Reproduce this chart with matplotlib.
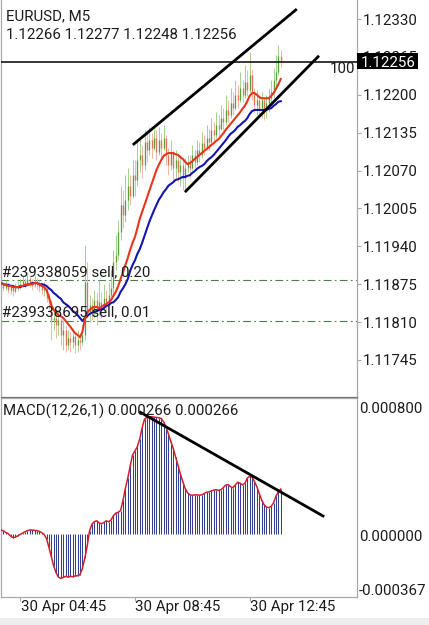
import matplotlib
matplotlib.use("Agg")
import matplotlib.pyplot as plt
import numpy as np
from matplotlib.patches import Rectangle
from matplotlib.transforms import blended_transform_factory

# ---------------- data ----------------
symbol_title = "EURUSD, M5"
ohlc_title = "1.12266 1.12277 1.12248 1.12256"
macd_title = "MACD(12,26,1) 0.000266 0.000266"

open_ = [1.11870, 1.11874, 1.11868, 1.11875, 1.11865, 1.11870, 1.11863, 1.11868, 1.11872, 1.11875,
         1.11880, 1.11875, 1.11884, 1.11877, 1.11874, 1.11880, 1.11875, 1.11870, 1.11865, 1.11867,
         1.11851, 1.11844, 1.11814, 1.11817, 1.11805, 1.11814, 1.11788, 1.11796, 1.11771, 1.11783,
         1.11776, 1.11786, 1.11771, 1.11779, 1.11776, 1.11788, 1.11879, 1.11827, 1.11839, 1.11827,
         1.11848, 1.11831, 1.11844, 1.11838, 1.11851, 1.11844, 1.11857, 1.11868, 1.11913, 1.11925,
         1.11965, 1.12011, 1.11994, 1.12020, 1.12044, 1.12027, 1.12062, 1.12054, 1.12088, 1.12097,
         1.12080, 1.12119, 1.12105, 1.12122, 1.12109, 1.12126, 1.12102, 1.12122, 1.12109, 1.12126,
         1.12097, 1.12080, 1.12102, 1.12074, 1.12088, 1.12068, 1.12080, 1.12057, 1.12074, 1.12085,
         1.12074, 1.12097, 1.12085, 1.12105, 1.12097, 1.12117, 1.12109, 1.12126, 1.12119, 1.12140,
         1.12131, 1.12148, 1.12141, 1.12160, 1.12153, 1.12174, 1.12165, 1.12186, 1.12177, 1.12200,
         1.12191, 1.12212, 1.12200, 1.12222, 1.12208, 1.12234, 1.12205, 1.12182, 1.12191, 1.12177,
         1.12191, 1.12174, 1.12186, 1.12194, 1.12205, 1.12225, 1.12239, 1.12266]
high = [1.11884, 1.11879, 1.11882, 1.11877, 1.11875, 1.11874, 1.11877, 1.11880, 1.11884, 1.11889,
        1.11886, 1.11896, 1.11887, 1.11884, 1.11891, 1.11886, 1.11882, 1.11877, 1.11879, 1.11868,
        1.11860, 1.11848, 1.11831, 1.11824, 1.11827, 1.11817, 1.11814, 1.11805, 1.11796, 1.11793,
        1.11800, 1.11793, 1.11796, 1.11788, 1.11805, 1.11942, 1.11913, 1.11857, 1.11851, 1.11865,
        1.11862, 1.11882, 1.11862, 1.11875, 1.11865, 1.11879, 1.11899, 1.11934, 1.11959, 1.11985,
        1.12044, 1.12037, 1.12062, 1.12074, 1.12062, 1.12088, 1.12088, 1.12122, 1.12126, 1.12114,
        1.12140, 1.12140, 1.12145, 1.12134, 1.12141, 1.12140, 1.12145, 1.12134, 1.12148, 1.12131,
        1.12109, 1.12122, 1.12105, 1.12105, 1.12097, 1.12097, 1.12088, 1.12092, 1.12097, 1.12097,
        1.12114, 1.12105, 1.12122, 1.12119, 1.12136, 1.12131, 1.12148, 1.12141, 1.12160, 1.12153,
        1.12170, 1.12165, 1.12182, 1.12177, 1.12200, 1.12191, 1.12212, 1.12205, 1.12225, 1.12217,
        1.12239, 1.12225, 1.12251, 1.12242, 1.12273, 1.12242, 1.12212, 1.12208, 1.12200, 1.12205,
        1.12194, 1.12200, 1.12212, 1.12225, 1.12246, 1.12268, 1.12285, 1.12277]
low = [1.11865, 1.11863, 1.11865, 1.11860, 1.11858, 1.11855, 1.11860, 1.11863, 1.11867, 1.11870,
       1.11868, 1.11872, 1.11870, 1.11865, 1.11870, 1.11867, 1.11862, 1.11858, 1.11855, 1.11844,
       1.11831, 1.11779, 1.11796, 1.11783, 1.11788, 1.11771, 1.11762, 1.11759, 1.11762, 1.11759,
       1.11766, 1.11757, 1.11759, 1.11762, 1.11771, 1.11779, 1.11817, 1.11810, 1.11814, 1.11817,
       1.11805, 1.11822, 1.11817, 1.11827, 1.11831, 1.11839, 1.11848, 1.11857, 1.11899, 1.11916,
       1.11951, 1.11971, 1.11982, 1.12002, 1.12011, 1.12023, 1.12027, 1.12044, 1.12068, 1.12057,
       1.12071, 1.12085, 1.12097, 1.12092, 1.12105, 1.12088, 1.12097, 1.12088, 1.12105, 1.12080,
       1.12062, 1.12071, 1.12054, 1.12057, 1.12050, 1.12044, 1.12037, 1.12033, 1.12068, 1.12057,
       1.12071, 1.12074, 1.12080, 1.12085, 1.12092, 1.12097, 1.12105, 1.12105, 1.12114, 1.12119,
       1.12126, 1.12129, 1.12140, 1.12140, 1.12148, 1.12153, 1.12160, 1.12165, 1.12174, 1.12177,
       1.12188, 1.12188, 1.12194, 1.12198, 1.12205, 1.12191, 1.12170, 1.12165, 1.12164, 1.12160,
       1.12157, 1.12160, 1.12170, 1.12182, 1.12194, 1.12212, 1.12234, 1.12248]
close = [1.11874, 1.11868, 1.11875, 1.11865, 1.11870, 1.11863, 1.11868, 1.11872, 1.11875, 1.11880,
         1.11875, 1.11884, 1.11877, 1.11874, 1.11880, 1.11875, 1.11870, 1.11865, 1.11867, 1.11851,
         1.11844, 1.11814, 1.11817, 1.11805, 1.11814, 1.11788, 1.11796, 1.11771, 1.11783, 1.11776,
         1.11786, 1.11771, 1.11779, 1.11776, 1.11788, 1.11879, 1.11827, 1.11839, 1.11827, 1.11848,
         1.11831, 1.11844, 1.11838, 1.11851, 1.11844, 1.11857, 1.11868, 1.11913, 1.11925, 1.11965,
         1.12011, 1.11994, 1.12020, 1.12044, 1.12027, 1.12062, 1.12054, 1.12088, 1.12097, 1.12080,
         1.12119, 1.12105, 1.12122, 1.12109, 1.12126, 1.12102, 1.12122, 1.12109, 1.12126, 1.12097,
         1.12080, 1.12102, 1.12074, 1.12088, 1.12068, 1.12080, 1.12057, 1.12074, 1.12085, 1.12074,
         1.12097, 1.12085, 1.12105, 1.12097, 1.12117, 1.12109, 1.12126, 1.12119, 1.12140, 1.12131,
         1.12148, 1.12141, 1.12160, 1.12153, 1.12174, 1.12165, 1.12186, 1.12177, 1.12200, 1.12191,
         1.12212, 1.12200, 1.12222, 1.12208, 1.12234, 1.12205, 1.12182, 1.12191, 1.12177, 1.12191,
         1.12174, 1.12186, 1.12194, 1.12205, 1.12225, 1.12239, 1.12266, 1.12256]
ema_fast = [1.11877, 1.11875, 1.11874, 1.11872, 1.11872, 1.11870, 1.11870, 1.11870, 1.11872, 1.11872,
            1.11874, 1.11874, 1.11875, 1.11875, 1.11877, 1.11877, 1.11875, 1.11872, 1.11870, 1.11865,
            1.11853, 1.11839, 1.11831, 1.11826, 1.11822, 1.11820, 1.11817, 1.11812, 1.11807, 1.11802,
            1.11796, 1.11791, 1.11788, 1.11784, 1.11793, 1.11814, 1.11826, 1.11831, 1.11834, 1.11836,
            1.11836, 1.11834, 1.11836, 1.11839, 1.11841, 1.11844, 1.11848, 1.11855, 1.11862, 1.11872,
            1.11884, 1.11896, 1.11908, 1.11920, 1.11934, 1.11946, 1.11956, 1.11971, 1.11987, 1.11999,
            1.12011, 1.12023, 1.12035, 1.12047, 1.12059, 1.12071, 1.12080, 1.12088, 1.12095, 1.12098,
            1.12100, 1.12100, 1.12100, 1.12098, 1.12097, 1.12093, 1.12090, 1.12085, 1.12081, 1.12083,
            1.12086, 1.12090, 1.12093, 1.12097, 1.12100, 1.12104, 1.12107, 1.12110, 1.12114, 1.12117,
            1.12121, 1.12124, 1.12129, 1.12134, 1.12140, 1.12145, 1.12150, 1.12155, 1.12160, 1.12165,
            1.12170, 1.12176, 1.12181, 1.12189, 1.12198, 1.12203, 1.12203, 1.12200, 1.12196, 1.12194,
            1.12194, 1.12194, 1.12194, 1.12198, 1.12203, 1.12210, 1.12218, 1.12227]
ema_slow = [1.11877, 1.11875, 1.11874, 1.11874, 1.11872, 1.11872, 1.11870, 1.11870, 1.11870, 1.11872,
            1.11872, 1.11874, 1.11875, 1.11877, 1.11877, 1.11877, 1.11875, 1.11875, 1.11874, 1.11872,
            1.11868, 1.11865, 1.11860, 1.11857, 1.11853, 1.11850, 1.11844, 1.11841, 1.11838, 1.11834,
            1.11829, 1.11826, 1.11822, 1.11817, 1.11812, 1.11817, 1.11820, 1.11824, 1.11826, 1.11827,
            1.11829, 1.11831, 1.11832, 1.11834, 1.11838, 1.11839, 1.11843, 1.11844, 1.11848, 1.11853,
            1.11862, 1.11868, 1.11875, 1.11884, 1.11898, 1.11908, 1.11916, 1.11927, 1.11935, 1.11946,
            1.11958, 1.11970, 1.11982, 1.11992, 1.12002, 1.12011, 1.12020, 1.12026, 1.12033, 1.12038,
            1.12044, 1.12047, 1.12050, 1.12054, 1.12055, 1.12057, 1.12059, 1.12059, 1.12061, 1.12062,
            1.12066, 1.12069, 1.12073, 1.12076, 1.12078, 1.12081, 1.12086, 1.12090, 1.12093, 1.12097,
            1.12102, 1.12107, 1.12112, 1.12117, 1.12122, 1.12128, 1.12133, 1.12136, 1.12140, 1.12145,
            1.12148, 1.12152, 1.12155, 1.12160, 1.12167, 1.12172, 1.12174, 1.12174, 1.12174, 1.12174,
            1.12174, 1.12174, 1.12176, 1.12177, 1.12181, 1.12184, 1.12188, 1.12189]
macd = [0.000026, 0.000020, 0.000012, 0.000004, -0.000010, -0.000019, -0.000016, -0.000008, 0.000000, 0.000008,
        0.000016, 0.000022, 0.000026, 0.000026, 0.000024, 0.000022, 0.000018, 0.000010, 0.000000, -0.000025,
        -0.000075, -0.000130, -0.000185, -0.000225, -0.000250, -0.000258, -0.000252, -0.000246, -0.000250, -0.000246,
        -0.000248, -0.000244, -0.000242, -0.000236, -0.000200, -0.000140, -0.000070, 0.000020, 0.000060, 0.000075,
        0.000080, 0.000068, 0.000062, 0.000070, 0.000080, 0.000074, 0.000085, 0.000110, 0.000125, 0.000130,
        0.000140, 0.000200, 0.000270, 0.000330, 0.000400, 0.000465, 0.000490, 0.000515, 0.000560, 0.000625,
        0.000675, 0.000688, 0.000690, 0.000690, 0.000688, 0.000686, 0.000684, 0.000680, 0.000660, 0.000630,
        0.000590, 0.000545, 0.000505, 0.000455, 0.000405, 0.000355, 0.000310, 0.000270, 0.000245, 0.000232,
        0.000230, 0.000232, 0.000232, 0.000230, 0.000232, 0.000240, 0.000248, 0.000250, 0.000255, 0.000260,
        0.000262, 0.000258, 0.000262, 0.000275, 0.000290, 0.000292, 0.000280, 0.000274, 0.000290, 0.000306,
        0.000300, 0.000290, 0.000300, 0.000330, 0.000340, 0.000336, 0.000310, 0.000280, 0.000240, 0.000202,
        0.000175, 0.000160, 0.000157, 0.000165, 0.000185, 0.000225, 0.000250, 0.000266]

price_ticks = [1.12330, 1.12265, 1.12200, 1.12135, 1.12070, 1.12005, 1.11940, 1.11875, 1.11810, 1.11745]
time_tick_bars = [8, 56, 104]
time_tick_labels = ["30 Apr 04:45", "30 Apr 08:45", "30 Apr 12:45"]
macd_labels = ["0.000800", "0.000000", "-0.000367"]
macd_range = (-0.000367, 0.000800)

bid_price = 1.12256
hline_price = 1.12257
order_prices = [1.11882, 1.11812]
order_labels = ["#239338059 sell, 0.20", "#239338695 sell, 0.01"]

trend_upper = ([55.1, 123.7], [1.12114, 1.12347])
trend_lower = ([76.9, 133.0], [1.12033, 1.12267])
trend_macd = ([57.8, 135.2], [0.000720, 0.000104])

# ---------------- figure ----------------
plt.rcParams['font.family'] = ['Roboto', 'DejaVu Sans']
W, H = 429, 625
fig = plt.figure(figsize=(W / 100, H / 100), dpi=100)
fig.patch.set_facecolor('white')

def fx(px):
    return px / W

def fy(py):
    return 1 - py / H

FS = 10.8
TXT = '#1c1c1c'
SPINE = '#a8a8a8'

ax = fig.add_axes([fx(1), fy(397), fx(357) - fx(1), fy(0) - fy(397)])
ax2 = fig.add_axes([fx(1), fy(597), fx(357) - fx(1), fy(398) - fy(597)])

xs = np.arange(len(close))
o = np.array(open_); h = np.array(high); l = np.array(low); c = np.array(close)
up = c >= o
dn = ~up

xlim = (-0.04, 148.9)
for a in (ax, ax2):
    a.set_xlim(*xlim)

ax.set_ylim(1.116815, 1.123626)

# candles
ax.vlines(xs[up], l[up], h[up], color='#a6cf90', lw=0.7, zorder=2)
ax.vlines(xs[up], o[up], c[up], color='#5a9e3a', lw=0.95, zorder=2)
ax.vlines(xs[dn], l[dn], h[dn], color='#efb8aa', lw=0.7, zorder=2)
ax.vlines(xs[dn], c[dn], o[dn], color='#e0705a', lw=0.95, zorder=2)

# moving averages
ax.plot(xs, ema_slow, color='#1414b0', lw=1.5, zorder=3)
ax.plot(xs, ema_fast, color='#e8341c', lw=1.5, zorder=3)

# order lines
for p in order_prices:
    ax.axhline(p, color='#4f7d4f', lw=0.8, ls=(0, (7, 3, 1.5, 3)), zorder=1)

# horizontal line and trend lines
ax.axhline(hline_price, color='black', lw=1.1, zorder=4)
ax.plot(*trend_upper, color='black', lw=2.0, zorder=4, solid_capstyle='butt')
ax.plot(*trend_lower, color='black', lw=2.0, zorder=4, solid_capstyle='butt')

# axes style (main)
ax.yaxis.tick_right()
ax.set_yticks(price_ticks)
ax.set_yticklabels([f"{v:.5f}" for v in price_ticks])
ax.tick_params(axis='y', length=3, width=0.8, color=SPINE, pad=1, labelsize=FS, labelcolor=TXT)
ax.set_xticks([])
ax.spines['top'].set_visible(False)
ax.spines['left'].set_color(SPINE)
ax.spines['right'].set_color(SPINE)
ax.spines['bottom'].set_color('#707070')
for s in ax.spines.values():
    s.set_linewidth(0.9)

# MACD panel
ax2.set_ylim(*macd_range)
ax2.vlines(xs, 0, macd, color='#34408f', lw=0.75, zorder=2)
ax2.plot(xs, macd, color='#d0202c', lw=1.1, zorder=3)
ax2.plot(*trend_macd, color='black', lw=2.0, zorder=4, solid_capstyle='butt')
ax2.set_yticks([])
ax2.set_xticks(time_tick_bars)
ax2.set_xticklabels([''] * len(time_tick_bars))
ax2.tick_params(axis='x', length=3, width=0.8, color=SPINE)
for s in ax2.spines.values():
    s.set_color(SPINE)
    s.set_linewidth(0.9)

# texts
fig.text(fx(6), fy(20.5), symbol_title, fontsize=FS, color=TXT, va='baseline', ha='left')
fig.text(fx(6), fy(39.3), ohlc_title, fontsize=FS, color=TXT, va='baseline', ha='left')
for lab, yb in zip(order_labels, [276.0, 316.7]):
    fig.text(fx(2.5), fy(yb), lab, fontsize=FS, color=TXT, va='baseline', ha='left', zorder=5)
fig.text(fx(355), fy(72.7), "100", fontsize=FS, color=TXT, va='baseline', ha='right')
fig.text(fx(3), fy(415.3), macd_title, fontsize=FS, color=TXT, va='baseline', ha='left')

for lab, yb in zip(macd_labels, [413.3, 540.7, 595.0]):
    fig.text(fx(359), fy(yb), lab, fontsize=FS, color=TXT, va='baseline', ha='left')

tr = blended_transform_factory(ax2.transData, fig.transFigure)
for b, lab in zip(time_tick_bars, time_tick_labels):
    fig.text(b + 0.2, fy(611), lab, fontsize=FS, color=TXT, va='baseline', ha='left', transform=tr)

# bid price box (partly hides the 1.12265 tick label, as in the reference)
fig.add_artist(Rectangle((fx(357), fy(69)), fx(418) - fx(357), (69 - 53) / H,
                         transform=fig.transFigure, facecolor='black', edgecolor='none', zorder=5))
fig.text(fx(360.5), fy(66.7), f"{bid_price:.5f}", fontsize=FS, color='white', va='baseline', ha='left', zorder=6)

# bottom gray strip
fig.add_artist(Rectangle((0, 0), 1, 7 / H, transform=fig.transFigure,
                         facecolor='#eeeeee', edgecolor='none', zorder=0))

fig.savefig('out.png', dpi=100)
